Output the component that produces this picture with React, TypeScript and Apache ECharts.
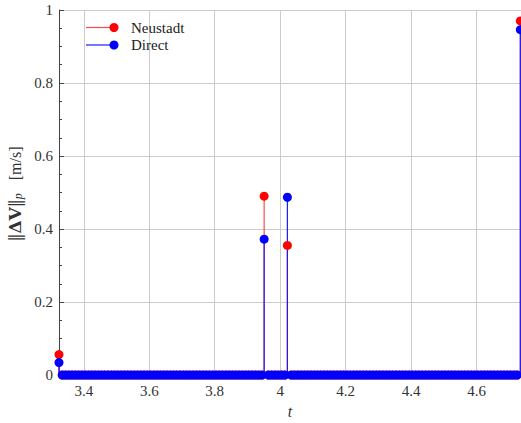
import React, { useEffect, useRef } from "react";
import * as echarts from "echarts";

// Sample times t (every sample of both methods)
const sampleTimes: number[] = [
  3.324, 3.334, 3.344, 3.354, 3.364, 3.374, 3.384, 3.394, 3.404, 3.414,
  3.424, 3.434, 3.444, 3.454, 3.464, 3.474, 3.484, 3.494, 3.504, 3.514,
  3.524, 3.534, 3.544, 3.554, 3.564, 3.574, 3.584, 3.594, 3.604, 3.614,
  3.624, 3.634, 3.644, 3.654, 3.664, 3.674, 3.684, 3.694, 3.704, 3.714,
  3.724, 3.734, 3.744, 3.754, 3.764, 3.774, 3.784, 3.794, 3.804, 3.814,
  3.824, 3.834, 3.844, 3.854, 3.864, 3.874, 3.884, 3.894, 3.904, 3.914,
  3.924, 3.934, 3.944, 3.951, 3.964, 3.974, 3.984, 3.994, 4.004, 4.014,
  4.022, 4.034, 4.044, 4.054, 4.064, 4.074, 4.084, 4.094, 4.104, 4.114,
  4.124, 4.134, 4.144, 4.154, 4.164, 4.174, 4.184, 4.194, 4.204, 4.214,
  4.224, 4.234, 4.244, 4.254, 4.264, 4.274, 4.284, 4.294, 4.304, 4.314,
  4.324, 4.334, 4.344, 4.354, 4.364, 4.374, 4.384, 4.394, 4.404, 4.414,
  4.424, 4.434, 4.444, 4.454, 4.464, 4.474, 4.484, 4.494, 4.504, 4.514,
  4.524, 4.534, 4.544, 4.554, 4.564, 4.574, 4.584, 4.594, 4.604, 4.614,
  4.624, 4.634, 4.644, 4.654, 4.664, 4.674, 4.684, 4.694, 4.704, 4.714,
  4.724, 4.734,
];

// Impulses (nonzero samples); every other sample is 0
const spikeTimes: number[] = [3.324, 3.951, 4.022, 4.734];
const neustadtSpikes: number[] = [0.056, 0.49, 0.355, 0.97];
const directSpikes: number[] = [0.034, 0.372, 0.487, 0.946];

const yTicks = { min: 0, max: 1, interval: 0.2 };
const xRange = { min: 3.324, max: 4.736 };

const FONT = "Liberation Serif";

function buildSeriesData(values: number[]): number[][] {
  return sampleTimes.map((t) => {
    const i = spikeTimes.indexOf(t);
    return [t, i >= 0 ? values[i] : 0];
  });
}

function stemSeries(name: string, data: number[][], color: string) {
  return {
    name: name + "-stem",
    type: "custom",
    data,
    clip: false,
    renderItem: (params: any, api: any) => {
      const x = api.value(0);
      const y = api.value(1);
      const p0 = api.coord([x, 0]);
      const p1 = api.coord([x, y]);
      return {
        type: "line",
        shape: { x1: p0[0], y1: p0[1], x2: p1[0], y2: p1[1] },
        style: { stroke: color, lineWidth: 1.2 },
      };
    },
  };
}

function markerSeries(name: string, data: number[][], color: string) {
  return {
    name,
    type: "scatter",
    data,
    symbol: "circle",
    symbolSize: 9,
    clip: false,
    itemStyle: { color, opacity: 1 },
  };
}

export default function App() {
  const ref = useRef<HTMLDivElement>(null);
  useEffect(() => {
    if (!ref.current) return;
    const chart = echarts.init(ref.current, null, { renderer: "svg" });
    const neustadt = buildSeriesData(neustadtSpikes);
    const direct = buildSeriesData(directSpikes);
    chart.setOption({
      animation: false,
      backgroundColor: "#ffffff",
      textStyle: { fontFamily: FONT },
      grid: { left: 59, top: 10, right: 0, bottom: 48, containLabel: false, outerBoundsMode: "none" },
      xAxis: {
        type: "value",
        min: xRange.min,
        max: xRange.max,
        splitNumber: 7,
        name: "t",
        nameLocation: "middle",
        nameGap: 28,
        nameTextStyle: { fontFamily: FONT, fontStyle: "italic", fontSize: 16, color: "#333" },
        axisLine: { show: true, onZero: false, lineStyle: { color: "#444", width: 1 } },
        axisTick: { show: false },
        axisLabel: {
          showMinLabel: false,
          showMaxLabel: false,
          margin: 8,
          fontFamily: FONT,
          fontSize: 15,
          color: "#333",
        },
        splitLine: { show: true, lineStyle: { color: "#cccccc", width: 1 } },
      },
      yAxis: {
        type: "value",
        min: yTicks.min,
        max: yTicks.max,
        interval: yTicks.interval,
        axisLine: { show: true, lineStyle: { color: "#444", width: 1 } },
        axisTick: { show: true, inside: true, length: 5, lineStyle: { color: "#444" } },
        minorTick: { show: true, splitNumber: 4, length: 3, lineStyle: { color: "#444" } },
        axisLabel: { margin: 6, fontFamily: FONT, fontSize: 15, color: "#333" },
        splitLine: { show: true, lineStyle: { color: "#cccccc", width: 1 } },
      },
      series: [
        stemSeries("Neustadt", neustadt, "#ff4a4a"),
        stemSeries("Direct", direct, "#1a1aff"),
        markerSeries("Neustadt", neustadt, "#ff0000"),
        markerSeries("Direct", direct, "#0000ff"),
      ],
      graphic: [
        {
          type: "text",
          x: 15,
          y: 194,
          rotation: Math.PI / 2,
          style: {
            text: "{n|‖}{b|ΔV}{n|‖}{s|p}{g| }{u|[m/s]}",
            align: "center",
            verticalAlign: "middle",
            fill: "#333",
            rich: {
              n: { fontFamily: "DejaVu Serif", fontSize: 16, fill: "#333", verticalAlign: "bottom" },
              b: { fontFamily: "DejaVu Serif", fontSize: 17, fontWeight: "bold", fill: "#333", verticalAlign: "bottom" },
              s: { fontFamily: FONT, fontSize: 12, fontStyle: "italic", fill: "#333", verticalAlign: "bottom" },
              g: { fontFamily: FONT, fontSize: 15, width: 13 },
              u: { fontFamily: FONT, fontSize: 16, fill: "#333", verticalAlign: "bottom" },
            },
          },
          z: 10,
        },
        { type: "line", shape: { x1: 86, y1: 27.5, x2: 114, y2: 27.5 }, style: { stroke: "#ff4a4a", lineWidth: 1.2 }, z: 10 },
        { type: "circle", shape: { cx: 114, cy: 27.5, r: 4.5 }, style: { fill: "#ff0000" }, z: 10 },
        { type: "text", x: 131, y: 27.5, style: { text: "Neustadt", fontFamily: FONT, fontSize: 15, fill: "#222", verticalAlign: "middle" }, z: 10 },
        { type: "line", shape: { x1: 86, y1: 45, x2: 114, y2: 45 }, style: { stroke: "#1a1aff", lineWidth: 1.2 }, z: 10 },
        { type: "circle", shape: { cx: 114, cy: 45, r: 4.5 }, style: { fill: "#0000ff" }, z: 10 },
        { type: "text", x: 131, y: 45, style: { text: "Direct", fontFamily: FONT, fontSize: 15, fill: "#222", verticalAlign: "middle" }, z: 10 },
      ],
    });
    return () => chart.dispose();
  }, []);
  return (
    <div
      ref={ref}
      style={{ position: "absolute", left: 0, top: 0, width: 521, height: 423 }}
    />
  );
}
